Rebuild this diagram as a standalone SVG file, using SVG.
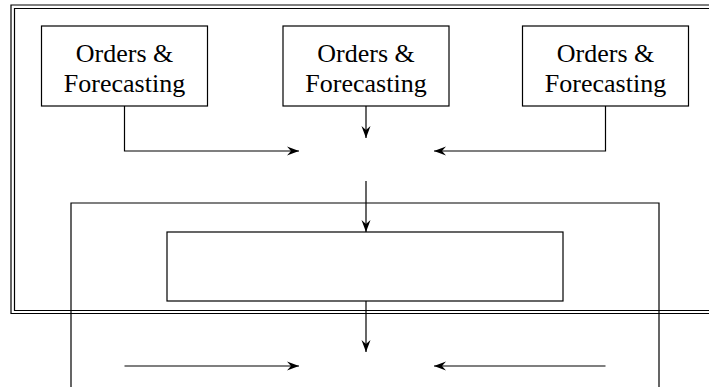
<svg xmlns="http://www.w3.org/2000/svg" width="709" height="387" viewBox="0 0 709 387">
  <style>
    .box { fill: #fff; stroke: #000; stroke-width: 1.2; }
    .frame { fill: none; stroke: #000; stroke-width: 1.2; }
    .wire { fill: none; stroke: #000; stroke-width: 1.2; }
    .label { font-family: "Liberation Serif", "Times New Roman", serif; font-size: 26px; fill: #000; text-anchor: middle; }
  </style>
  <defs>
    <marker id="head" markerUnits="userSpaceOnUse" markerWidth="14" markerHeight="12" viewBox="-13 -6 14 12" refX="0" refY="0" orient="auto">
      <path d="M0,0 L-12,-4.5 L-8,0 L-12,4.5 Z" fill="#000"/>
    </marker>
  </defs>

  <!-- double frame, open to the right -->
  <g id="outer-frame">
    <path class="frame" d="M720,5 H11 V313.5 H720"/>
    <path class="frame" d="M720,8.5 H14.5 V310.5 H720"/>
  </g>

  <g id="order-1">
    <rect class="box" x="41.5" y="26" width="166" height="80"/>
    <text class="label" x="124.5" y="62">Orders &amp;</text>
    <text class="label" x="124.5" y="92">Forecasting</text>
  </g>
  <g id="order-2">
    <rect class="box" x="283" y="26" width="166" height="80"/>
    <text class="label" x="366" y="62">Orders &amp;</text>
    <text class="label" x="366" y="92">Forecasting</text>
  </g>
  <g id="order-3">
    <rect class="box" x="522.5" y="26" width="166" height="80"/>
    <text class="label" x="605.5" y="62">Orders &amp;</text>
    <text class="label" x="605.5" y="92">Forecasting</text>
  </g>

  <g id="container">
    <path class="frame" d="M71,395 V203 H659 V395"/>
  </g>
  <g id="inner-block">
    <rect class="box" x="167" y="232" width="396" height="69"/>
  </g>

  <g id="connectors">
    <path class="wire" d="M124.5,106 V151 H299" marker-end="url(#head)"/>
    <path class="wire" d="M605.5,106 V151 H434" marker-end="url(#head)"/>
    <path class="wire" d="M366,106 V138" marker-end="url(#head)"/>
    <path class="wire" d="M366,181 V232" marker-end="url(#head)"/>
    <path class="wire" d="M366,301 V352" marker-end="url(#head)"/>
    <path class="wire" d="M124.5,366 H299" marker-end="url(#head)"/>
    <path class="wire" d="M605.5,366 H434" marker-end="url(#head)"/>
  </g>
</svg>
